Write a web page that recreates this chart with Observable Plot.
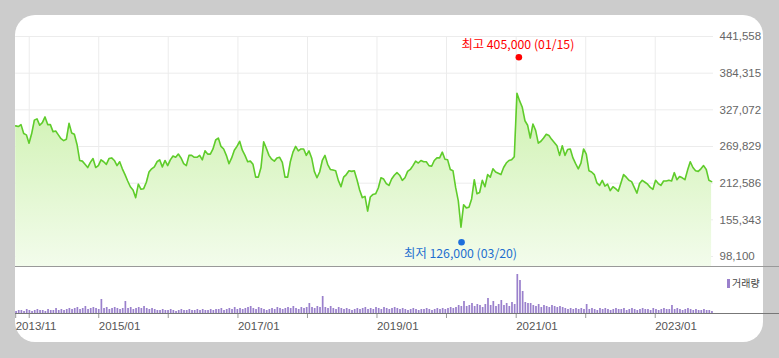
<!DOCTYPE html>
<html><head><meta charset="utf-8">
<script src="https://cdn.jsdelivr.net/npm/d3@7"></script>
<script src="https://cdn.jsdelivr.net/npm/@observablehq/plot@0.6"></script>
<style>
html,body{margin:0;padding:0;background:#cccccc;}
#wrap{position:relative;width:779px;height:358px;overflow:hidden;background:#cccccc;}
#panel{position:absolute;left:15px;top:15px;width:748px;height:327px;background:#fff;border-radius:20px;}
.layer{position:absolute;left:0;top:0;}
.hl{position:absolute;left:15px;width:764px;height:0;}
#legend{position:absolute;left:727px;top:275px;font:10px "Noto Sans CJK KR",sans-serif;color:#444;white-space:nowrap;}
#legend .sw{display:inline-block;width:3px;height:9px;background:#9a80cc;margin-right:2px;vertical-align:-1px;}
</style></head>
<body>
<div id="wrap">
  <div id="panel"></div>
  <svg width="0" height="0" style="position:absolute">
    <defs>
      <linearGradient id="priceGrad" gradientUnits="userSpaceOnUse" x1="0" y1="36" x2="0" y2="267">
        <stop offset="0" stop-color="#c2ee9c"/>
        <stop offset="1" stop-color="#f3fcec"/>
      </linearGradient>
    </defs>
  </svg>
  <div id="price" class="layer"></div>
  <div id="vol" class="layer"></div>
  <div class="hl" style="top:266px;border-top:1.5px solid #999;"></div>
  <div class="hl" style="top:313px;border-top:1px solid #777;"></div>
  <div id="legend"><span class="sw"></span>거래량</div>
</div>
<script>
// ---- data ----
const startDate = "2013-10-22";   // first sample
const stepDays = 14;              // one sample every two weeks
const closes = [
302000,301000,304000,290000,288000,275000,290000,311000,313000,303000,
307000,316000,304000,304000,293000,294000,288000,282000,279000,281000,
306000,291000,289000,273000,248000,247000,242000,237000,245000,251000,
237000,240000,249000,246000,242000,251000,252000,248000,240000,246000,
235000,226000,216000,207000,202000,190000,211000,203000,204000,214000,
230000,235000,238000,246000,249000,238000,248000,240000,249000,255000,
253000,258000,252000,243000,240000,256000,256000,253000,253000,256000,
249000,263000,258000,258000,266000,280000,283000,270000,266000,256000,
243000,252000,264000,270000,278000,264000,256000,246000,247000,242000,
222000,222000,237000,277000,267000,256000,250000,247000,252000,253000,
245000,222000,222000,246000,261000,270000,263000,266000,266000,256000,
263000,252000,231000,221000,230000,248000,256000,242000,234000,233000,
232000,217000,207000,222000,226000,232000,231000,232000,218000,202000,
190000,192000,169000,191000,195000,196000,205000,221000,219000,212000,
209000,219000,225000,229000,225000,217000,221000,231000,234000,240000,
247000,244000,248000,246000,246000,240000,239000,248000,252000,252000,
261000,250000,249000,234000,232000,206000,185000,144000,179000,174000,
175000,188000,218000,196000,198000,217000,207000,226000,222000,235000,
230000,228000,226000,237000,244000,248000,249000,254000,353000,341000,
331000,310000,303000,283000,305000,295000,275000,278000,283000,289000,
287000,281000,276000,271000,256000,271000,256000,265000,266000,252000,
243000,235000,244000,266000,258000,232000,230000,226000,213000,209000,
217000,208000,211000,201000,207000,204000,200000,213000,226000,222000,
217000,215000,206000,197000,212000,217000,214000,211000,206000,203000,
217000,212000,209000,216000,216000,217000,216000,229000,218000,223000,
221000,218000,233000,246000,237000,232000,231000,235000,240000,234000,
217000,215000
];
const volumes = [ // 10k shares per sample
2,3,3,2,4,3,2,3,4,3,3,2,4,3,3,5,3,4,3,4,5,
4,5,6,4,5,7,4,5,6,5,4,
14,
5,6,4,5,6,5,4,5,
12,
5,6,4,5,6,5,7,5,4,5,4,3,
3,4,3,3,4,3,2,3,4,3,3,4,3,3,4,3,4,3,3,4,3,4,4,5,3,4,
5,4,6,4,5,4,5,6,7,5,4,6,5,4,3,4,5,4,6,5,4,5,6,5,7,5,4,6,
5,6,10,6,5,7,6,
17,
6,5,7,5,4,6,5,4,5,4,3,4,5,4,5,6,4,5,4,6,5,4,6,5,4,5,6,5,
4,5,4,3,4,5,4,3,4,4,5,4,3,4,5,4,5,4,5,6,5,
6,8,7,12,7,8,10,7,9,8,6,9,15,8,12,7,9,13,8,10,7,11,9,
39,33,22,
11,10,10,
8,7,9,6,8,7,6,8,7,6,7,6,
5,4,5,4,5,4,5,4,
9,
4,5,4,3,5,4,5,4,3,4,5,4,4,5,3,4,5,4,3,4,5,4,4,3,5,4,3,4,5,4,4,
8,
4,5,4,3,4,5,4,3,4,3,3,4,3,3,2
];
const yTicks = [98100,155343,212586,269829,327072,384315,441558];
const gridDates = ["2014-01-01","2015-01-01","2016-01-01","2017-01-01","2018-01-01","2019-01-01","2020-01-01","2021-01-01","2022-01-01","2023-01-01"];
const xTickDates = ["2013-10-22","2014-01-01","2015-01-01","2016-01-01","2017-01-01","2018-01-01","2019-01-01","2020-01-01","2021-01-01","2022-01-01","2023-01-01"];
const xTickLabels = ["2013/11","","2015/01","","2017/01","","2019/01","","2021/01","","2023/01"];
const hiLabel = "최고 405,000 (01/15)", hiDate = "2021-01-15", hiValue = 405000;
const loLabel = "최저 126,000 (03/20)", loDate = "2020-03-20", loValue = 126000;

// ---- build ----
const DAY = 86400000;
const t0 = new Date(startDate).getTime();
const n = Math.min(closes.length, volumes.length);
const rows = d3.range(n).map(i => ({
  date: new Date(t0 + i*stepDays*DAY),
  date2: new Date(t0 + i*stepDays*DAY + 9*DAY),
  close: closes[i],
  vol: volumes[i]
}));
const xDomain = [new Date("2013-10-22"), new Date("2023-11-03")];
const yBottom = 80927;
const font = "'Liberation Sans', Arial, sans-serif";
const kr = "'Noto Sans CJK KR', sans-serif";

const price = Plot.plot({
  width: 779, height: 358,
  marginLeft: 15.2, marginRight: 66, marginTop: 36, marginBottom: 91,
  x: {type: "utc", domain: xDomain, axis: null},
  y: {domain: [yBottom, 441558], axis: null},
  style: {background: "transparent", fontFamily: font, fontSize: "11.5px", overflow: "visible"},
  marks: [
    Plot.gridX(gridDates.map(d => new Date(d)), {stroke: "#ececec", strokeOpacity: 1}),
    Plot.gridY(yTicks, {stroke: "#ececec", strokeOpacity: 1}),
    Plot.areaY(rows, {x: "date", y1: yBottom, y2: "close", fill: "url(#priceGrad)"}),
    Plot.lineY(rows, {x: "date", y: "close", stroke: "#5fcc2b", strokeWidth: 1.6}),
    Plot.axisY({ticks: yTicks, anchor: "right", tickSize: 0, tickPadding: 6, tickFormat: d3.format(","), fill: "#666", label: null}),
    Plot.dot([{d: new Date(hiDate), v: hiValue}], {x: "d", y: "v", r: 3.3, fill: "#ff0000", dy: -2.7}),
    Plot.text([{d: new Date(hiDate), v: hiValue}], {x: "d", y: "v", text: () => hiLabel, fill: "#ff0000", dy: -14.4, dx: -1, fontFamily: kr, fontSize: 12.3}),
    Plot.dot([{d: new Date(loDate), v: loValue}], {x: "d", y: "v", r: 3.3, fill: "#1e6fdc", dy: 3.6}),
    Plot.text([{d: new Date(loDate), v: loValue}], {x: "d", y: "v", text: () => loLabel, fill: "#1e6fd0", dy: 15.2, dx: -1, fontFamily: kr, fontSize: 12.3})
  ]
});
document.getElementById("price").appendChild(price);

const labelMap = new Map(xTickDates.map((d, i) => [new Date(d).getTime(), xTickLabels[i]]));
const vol = Plot.plot({
  width: 779, height: 358,
  marginLeft: 15.2, marginRight: 66, marginTop: 268, marginBottom: 45,
  x: {type: "utc", domain: xDomain, axis: null},
  y: {domain: [0, 45], axis: null},
  style: {background: "transparent", fontFamily: font, fontSize: "11.5px", overflow: "visible"},
  marks: [
    Plot.rectY(rows, {x1: "date", x2: "date2", y: "vol", fill: "#9a80cc"}),
    Plot.axisX({ticks: xTickDates.map(d => new Date(d)), tickFormat: d => labelMap.get(d.getTime()) ?? "", tickSize: 5, tickPadding: 3, textAnchor: "start", stroke: "#999", fill: "#555", label: null})
  ]
});
document.getElementById("vol").appendChild(vol);
</script>
</body></html>
